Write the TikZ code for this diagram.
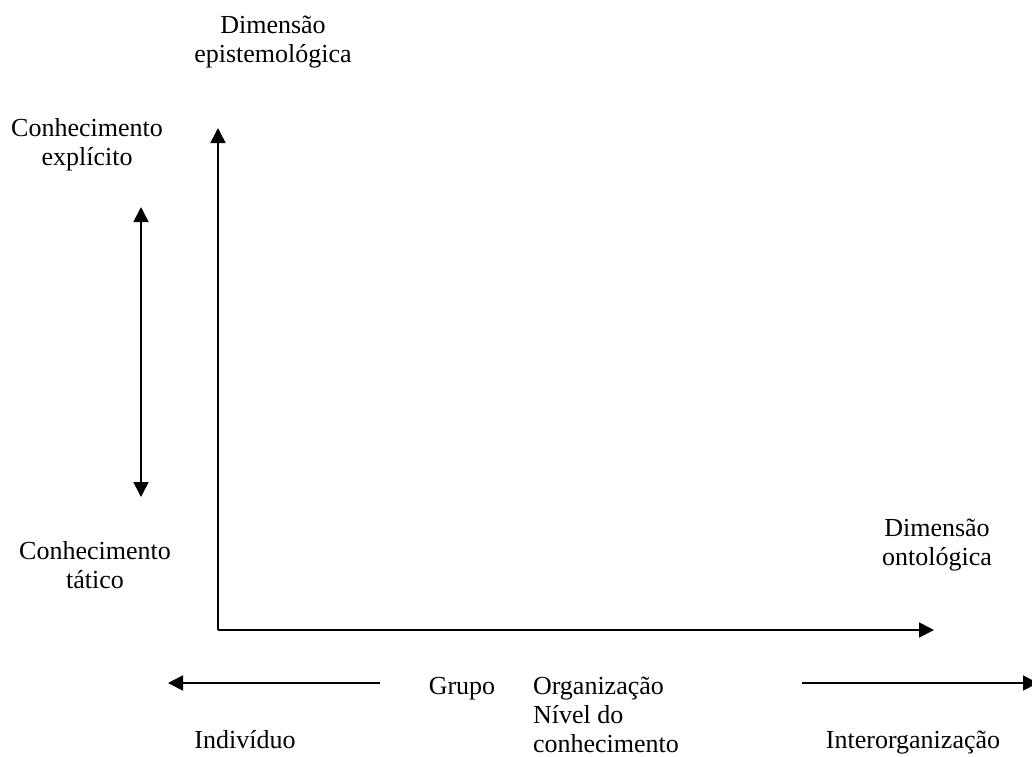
\documentclass[tikz,border=0pt]{standalone}
\usepackage{fontspec}
\setmainfont{Liberation Serif}
\usetikzlibrary{arrows.meta}
\tikzset{
  % base anchor of a multi-line label sits on its last line
  lbl/.style={font=\fontsize{26}{29}\selectfont, inner sep=0pt, outer sep=0pt, anchor=base},
  axis/.style={line width=1.6pt, -{Triangle[length=15pt,width=15pt]}},
  biaxis/.style={line width=1.6pt, {Triangle[length=15pt,width=15pt]}-{Triangle[length=15pt,width=15pt]}}
}
\begin{document}
\begin{tikzpicture}[x=1pt, y=-1pt]
  \clip (0,0) rectangle (1032,756);
  \useasboundingbox (0,0) rectangle (1032,756);

  % axes
  \coordinate (origin) at (218,630);
  \coordinate (ytop) at (218,128);
  \coordinate (xend) at (934,630);
  \draw[axis] (origin) -- (ytop);
  \draw[axis] (origin) -- (xend);

  % explicit / tacit scale
  \coordinate (scaletop) at (141,207);
  \coordinate (scalebot) at (141,497);
  \draw[biaxis] (scalebot) -- (scaletop);

  % level arrows below the axis
  \coordinate (leftstart) at (380,683);
  \coordinate (leftend) at (168,683);
  \coordinate (rightstart) at (802,683);
  \coordinate (rightend) at (1038,683);
  \draw[axis] (leftstart) -- (leftend);
  \draw[axis] (rightstart) -- (rightend);

  % labels
  \node[lbl, align=center] (epi) at (273,62) {Dimensão\\epistemológica};
  \node[lbl, align=center] (expl) at (87,165) {Conhecimento\\explícito};
  \node[lbl, align=center] (tac) at (95,588) {Conhecimento\\tático};
  \node[lbl, align=center] (onto) at (937,565) {Dimensão\\ontológica};
  \node[lbl] (grupo) at (462,694) {Grupo};
  \node[lbl, align=left, anchor=base west] (org) at (533,752) {Organização\\Nível do\\conhecimento};
  \node[lbl] (indiv) at (245,748) {Indivíduo};
  \node[lbl] (inter) at (913,748) {Interorganização};
\end{tikzpicture}
\end{document}
